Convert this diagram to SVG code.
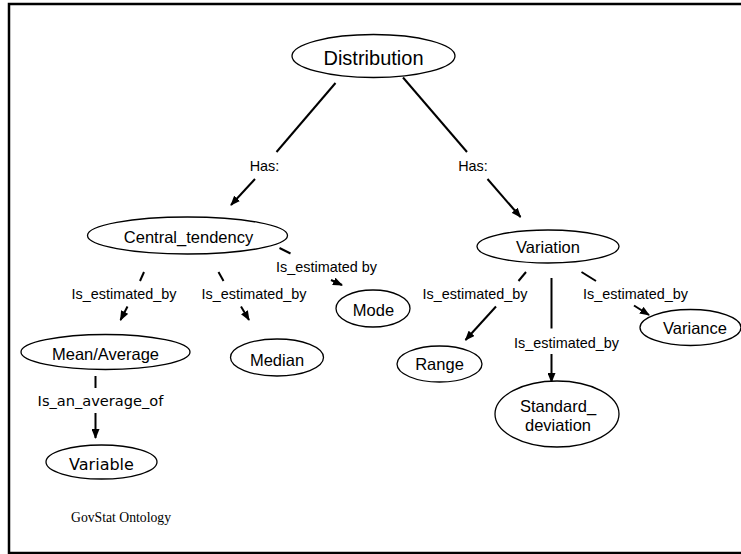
<svg xmlns="http://www.w3.org/2000/svg" width="741" height="554" viewBox="0 0 741 554">
<style>
.n ellipse{fill:#fff;stroke:#000;stroke-width:1.3}
.n text{font-family:"Liberation Sans",Arial,sans-serif;font-size:16.5px;text-anchor:middle;fill:#000}
.e line{stroke:#000;stroke-width:2}
.e text{font-family:"Liberation Sans",Arial,sans-serif;font-size:14.4px;text-anchor:middle;fill:#000}
.dv{font-family:"DejaVu Sans",Verdana,sans-serif !important}
</style>
<defs>
<marker id="ah" markerUnits="userSpaceOnUse" markerWidth="10" markerHeight="8" refX="9" refY="4" orient="auto">
<path d="M0,0 L10,4 L0,8 z" fill="#000"/>
</marker>
</defs>
<rect width="741" height="554" fill="#fff"/>
<g id="frame" fill="none" stroke="#000" stroke-width="2.5">
<polyline points="741,4 9,4 9,553 741,553"/>
</g>
<g id="connectors" class="e">
<line x1="335.5" y1="83" x2="276.5" y2="152"/>
<text x="264.5" y="171">Has:</text>
<line x1="255" y1="179" x2="231" y2="205" marker-end="url(#ah)"/>
<line x1="403" y1="77.5" x2="467" y2="152"/>
<text x="473" y="171">Has:</text>
<line x1="487.5" y1="179" x2="520.5" y2="217" marker-end="url(#ah)"/>
<line x1="144" y1="272" x2="140" y2="281"/>
<text x="124" y="299">Is_estimated_by</text>
<line x1="127.5" y1="306.5" x2="120.5" y2="320" marker-end="url(#ah)"/>
<line x1="218.5" y1="272" x2="223.5" y2="281"/>
<text x="254" y="299">Is_estimated_by</text>
<line x1="241" y1="306.5" x2="249" y2="320" marker-end="url(#ah)"/>
<line x1="279.5" y1="248" x2="290.5" y2="253.5"/>
<text x="326.5" y="272">Is_estimated by</text>
<line x1="331" y1="280" x2="342" y2="285" marker-end="url(#ah)"/>
<line x1="526" y1="272" x2="518.5" y2="281"/>
<text x="475" y="299">Is_estimated_by</text>
<line x1="496" y1="306.5" x2="465.5" y2="340" marker-end="url(#ah)"/>
<line x1="551.5" y1="278" x2="551.5" y2="328.5"/>
<text x="566.5" y="348">Is_estimated_by</text>
<line x1="551.5" y1="354" x2="551.5" y2="382" marker-end="url(#ah)"/>
<line x1="581.5" y1="272" x2="596" y2="281"/>
<text x="635.5" y="299">Is_estimated_by</text>
<line x1="634" y1="305.5" x2="649" y2="315" marker-end="url(#ah)"/>
<line x1="95.5" y1="376" x2="95.5" y2="388"/>
<text x="100.5" y="406" class="dv" style="font-size:14.6px">Is_an_average_of</text>
<line x1="95.5" y1="413" x2="95.5" y2="438" marker-end="url(#ah)"/>
</g>
<g id="n-distribution" class="n"><ellipse cx="373.5" cy="56" rx="81.5" ry="21.5"/><text x="373.5" y="65" style="font-size:20px">Distribution</text></g>
<g id="n-central" class="n"><ellipse cx="187.5" cy="235.5" rx="100" ry="18.5"/><text x="188.5" y="243">Central_tendency</text></g>
<g id="n-variation" class="n"><ellipse cx="548" cy="246.5" rx="71" ry="16.5"/><text x="548" y="253">Variation</text></g>
<g id="n-mode" class="n"><ellipse cx="373" cy="308.5" rx="37" ry="18.5"/><text x="373.5" y="316">Mode</text></g>
<g id="n-mean" class="n"><ellipse cx="105.5" cy="352" rx="84.5" ry="17.5"/><text x="105.5" y="360">Mean/Average</text></g>
<g id="n-median" class="n"><ellipse cx="277" cy="357.5" rx="46.5" ry="18.5"/><text x="277" y="365.5">Median</text></g>
<g id="n-range" class="n"><ellipse cx="439.5" cy="364" rx="42.5" ry="18"/><text x="439.5" y="370">Range</text></g>
<g id="n-variance" class="n"><ellipse cx="690.5" cy="327.5" rx="50.5" ry="18"/><text x="695" y="334">Variance</text></g>
<g id="n-sd" class="n"><ellipse cx="557" cy="414" rx="62" ry="33"/><text x="558" y="412">Standard_</text><text x="558" y="431">deviation</text></g>
<g id="n-variable" class="n"><ellipse cx="101.5" cy="462" rx="55.5" ry="17"/><text x="101.5" y="470" class="dv" style="font-size:16px">Variable</text></g>
<text x="71" y="522" font-family="Liberation Serif,Times New Roman,serif" font-size="13.7" fill="#000">GovStat Ontology</text>
</svg>
